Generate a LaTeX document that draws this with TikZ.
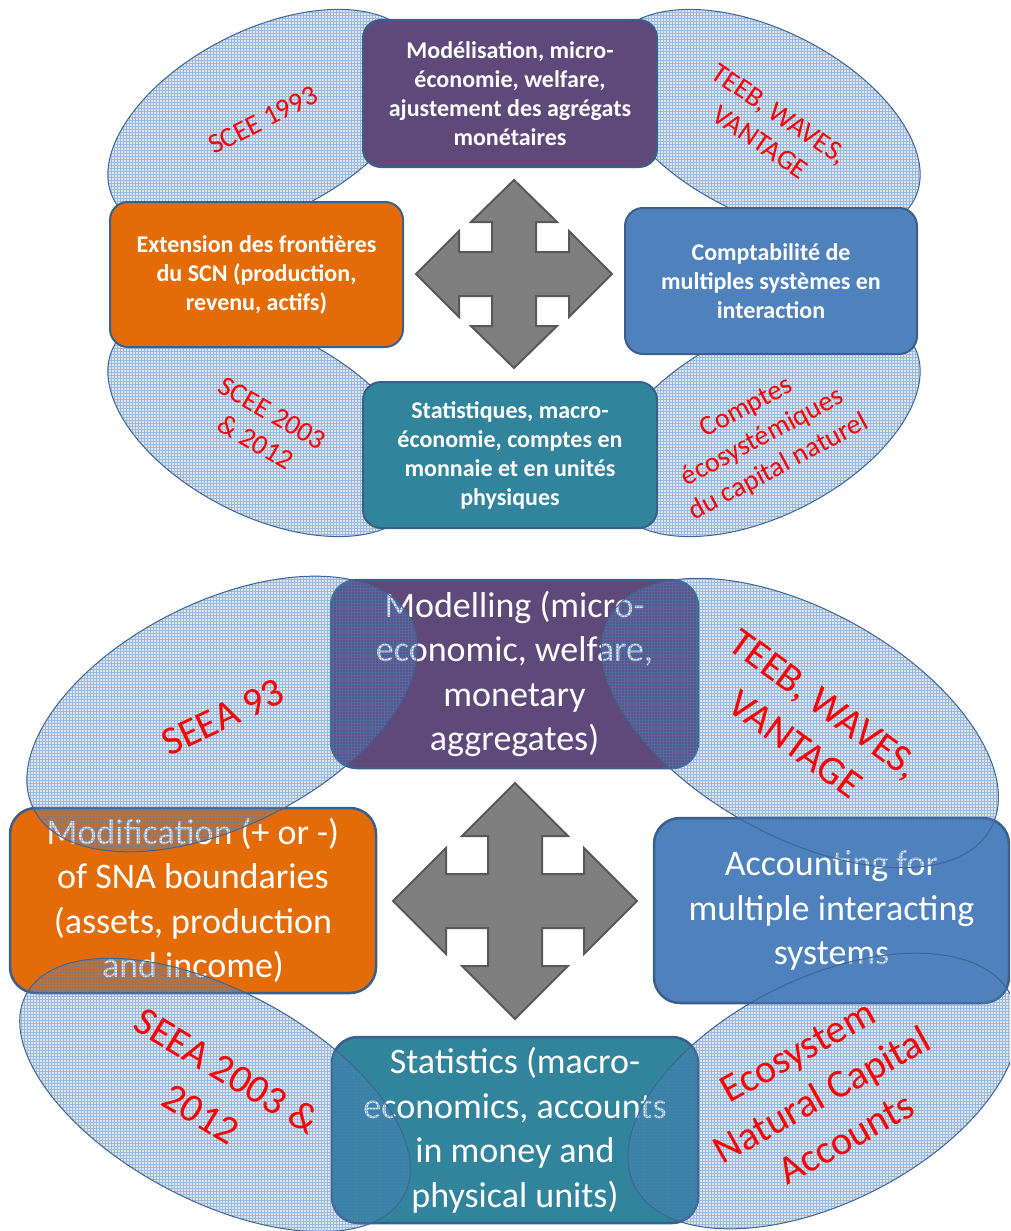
\documentclass[tikz,border=0pt]{standalone}
\usepackage{fontspec}
\setmainfont{Carlito}
\definecolor{boxline}{HTML}{3A5F8B}
\definecolor{cpurple}{HTML}{5F497A}
\definecolor{corange}{HTML}{E36C09}
\definecolor{cblue}{HTML}{4F81BD}
\definecolor{cteal}{HTML}{31849B}
\definecolor{carrow}{HTML}{7F7F7F}
\definecolor{carrowline}{HTML}{595959}
\definecolor{ellfill}{HTML}{4F81BD}
\definecolor{ellgrid}{HTML}{4F81BD}
\definecolor{ellline}{HTML}{3F6496}
\definecolor{lblred}{HTML}{FF0000}
% four-way arrow: cx, cy, horiz tip, vert tip, horiz head base, vert head base, head half width, shaft half width
\newcommand{\quadarrow}[8]{%
  \draw[arrowshape, shift={(#1,#2)}] (0,-#4) -- (#7,-#6) -- (#8,-#6) -- (#8,-#8) -- (#5,-#8) -- (#5,-#7) -- (#3,0)
    -- (#5,#7) -- (#5,#8) -- (#8,#8) -- (#8,#6) -- (#7,#6) -- (0,#4)
    -- (-#7,#6) -- (-#8,#6) -- (-#8,#8) -- (-#5,#8) -- (-#5,#7) -- (-#3,0)
    -- (-#5,-#7) -- (-#5,-#8) -- (-#8,-#8) -- (-#8,-#6) -- (-#7,-#6) -- cycle;}
% gridded ellipse: cx, cy, a, b, rotation
\newcommand{\patellipse}[5]{%
  \fill[ellfill, fill opacity=0.2, rotate around={#5:(#1,#2)}] (#1,#2) ellipse [x radius=#3, y radius=#4];
  \begin{scope}
    \clip[rotate around={#5:(#1,#2)}] (#1,#2) ellipse [x radius=#3, y radius=#4];
    \draw[ellgrid, line width=0.6pt, opacity=0.45, step=3pt] ({#1-#3},{#2-#3}) grid ({#1+#3},{#2+#3});
  \end{scope}
  \draw[ellline, line width=1pt, rotate around={#5:(#1,#2)}] (#1,#2) ellipse [x radius=#3, y radius=#4];}
\begin{document}
\begin{tikzpicture}[x=1pt,y=-1pt,
  box/.style={draw=boxline, inner sep=0pt, align=center, text=white},
  topbox/.style={box, line width=2pt, rounded corners=18pt, font=\bfseries\fontsize{24}{29}\selectfont},
  botbox/.style={box, line width=2.5pt, rounded corners=26pt, font=\fontsize{36}{44.5}\selectfont},
  arrowshape/.style={fill=carrow, draw=carrowline, line width=2pt},
  toplbl/.style={text=lblred, align=center, inner sep=0pt, font=\fontsize{28}{34}\selectfont},
  botlbl/.style={text=lblred, align=center, inner sep=0pt, font=\fontsize{40}{50}\selectfont}]
\useasboundingbox (0,0) rectangle (1010,1231);
\begin{scope}
\clip (0,0) rectangle (1010,1231);
% ---------- top diagram ----------
\patellipse{265}{122}{170}{92}{27}
\patellipse{763}{122}{170}{92}{-27}
\patellipse{265}{424}{170}{92}{-27}
\patellipse{763}{424}{170}{92}{27}
\node[toplbl, rotate=27] (l1) at (263,120) {SCEE 1993};
\node[toplbl, rotate=-34] (l2) at (770,128) {TEEB, WAVES,\\VANTAGE};
\node[toplbl, rotate=-30] (l3) at (264,428) {SCEE 2003\\\& 2012};
\node[toplbl, rotate=28] (l4) at (763,438) {Comptes\\écosystémiques\\du capital naturel};
\node[topbox, fill=cpurple, minimum width=294pt, minimum height=147pt] (tp) at (510,93.5)
  {Modélisation, micro-\\économie, welfare,\\ajustement des agrégats\\monétaires};
\node[topbox, fill=corange, minimum width=293pt, minimum height=145pt] (to) at (256.5,274.5)
  {Extension des frontières\\du SCN (production,\\revenu, actifs)};
\node[topbox, fill=cblue, minimum width=292pt, minimum height=146pt] (tb) at (771,281)
  {Comptabilité de\\multiples systèmes en\\interaction};
\node[topbox, fill=cteal, minimum width=294pt, minimum height=146pt] (tt) at (510,455)
  {Statistiques, macro-\\économie, comptes en\\monnaie et en unités\\physiques};
\quadarrow{514}{274}{98}{94}{55}{52}{43}{22}
% ---------- bottom diagram ----------
\node[botbox, fill=cpurple, minimum width=367pt, minimum height=188pt] (bp) at (514.5,674)
  {Modelling (micro-\\economic, welfare,\\monetary\\aggregates)};
\node[botbox, fill=corange, minimum width=366pt, minimum height=185pt] (bo) at (193,900.5)
  {Modification (+ or -)\\of SNA boundaries\\(assets, production\\and income)};
\node[botbox, fill=cblue, minimum width=355pt, minimum height=185pt] (bb) at (831.5,910.5)
  {Accounting for\\multiple interacting\\systems};
\node[botbox, fill=cteal, minimum width=366pt, minimum height=186pt] (bt) at (515,1130)
  {Statistics (macro-\\economics, accounts\\in money and\\physical units)};
\quadarrow{515}{901}{122}{118}{69}{65}{53}{27}
\patellipse{222}{714}{211}{112}{26.7}
\patellipse{800}{723}{218}{113}{-29}
\patellipse{215}{1095}{214}{105}{-28}
\patellipse{823}{1091}{211}{112}{26.7}
\node[botlbl, rotate=25] (l5) at (223,717) {SEEA 93};
\node[botlbl, rotate=-36] (l6) at (810,724) {TEEB, WAVES,\\VANTAGE};
\node[botlbl, rotate=-31] (l7) at (214,1092) {SEEA 2003 \&\\2012};
\node[botlbl, rotate=29] (l8) at (822,1095) {Ecosystem\\Natural Capital\\Accounts};
\end{scope}
\end{tikzpicture}
\end{document}
